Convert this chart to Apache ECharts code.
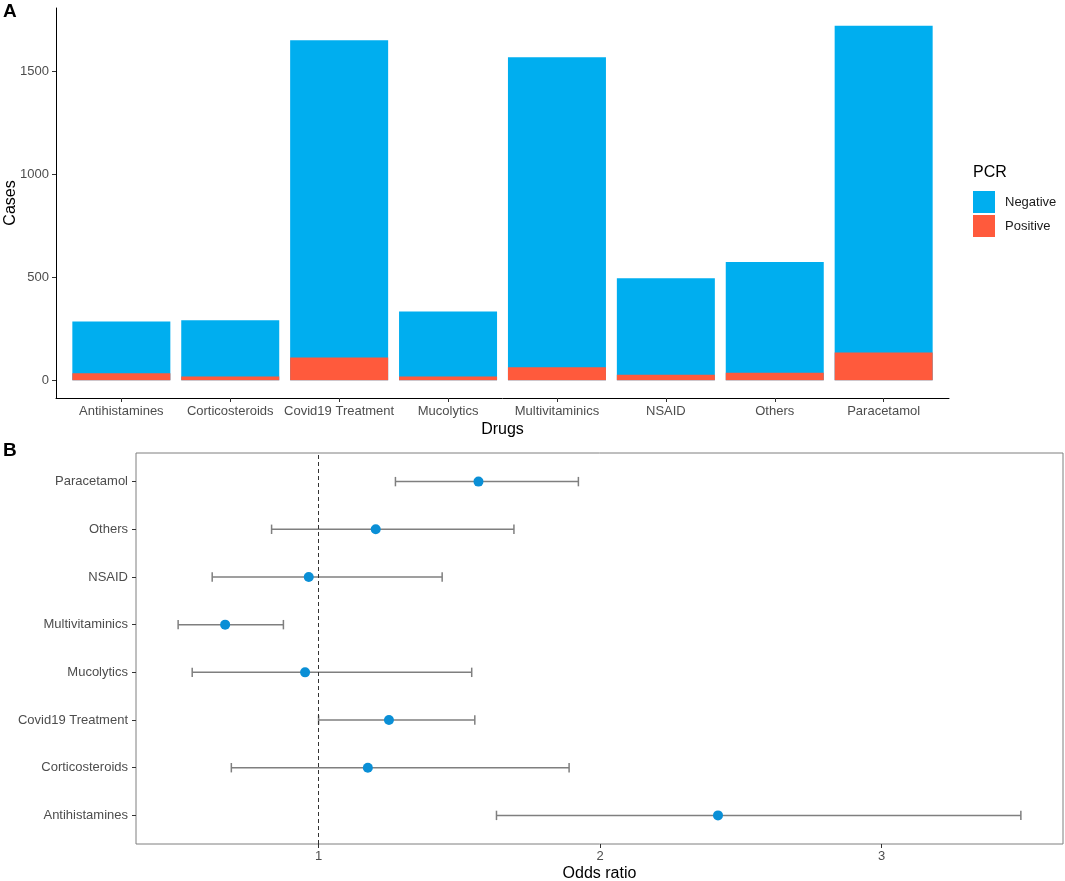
<!DOCTYPE html>
<html>
<head>
<meta charset="utf-8">
<title>PCR by drug</title>
<script src="https://cdn.jsdelivr.net/npm/echarts@6.0.0/dist/echarts.min.js"></script>
<style>
  html, body { margin: 0; padding: 0; background: #fff; }
  #chart { width: 1065px; height: 881px; }
</style>
</head>
<body>
<div id="chart"></div>
<script>
// Panel A: cases per drug split by PCR result
var drugs = ["Antihistamines", "Corticosteroids", "Covid19 Treatment", "Mucolytics",
  "Multivitaminics", "NSAID", "Others", "Paracetamol"];
var negativeCases = [252, 273, 1541, 316, 1506, 469, 538, 1587];
var positiveCases = [34, 18, 110, 18, 63, 27, 37, 135];
var caseTicks = [0, 500, 1000, 1500];

// Panel B: odds ratio with 95% CI, same drug order (bottom to top)
var oddsRatio = [2.419, 1.175, 1.250, 0.952, 0.668, 0.965, 1.203, 1.568];
var ciLower = [1.632, 0.690, 1.000, 0.551, 0.501, 0.622, 0.833, 1.273];
var ciUpper = [3.495, 1.890, 1.555, 1.544, 0.875, 1.439, 1.694, 1.923];
var orTicks = [1, 2, 3];

var FONT = "Liberation Sans, Arial, sans-serif";
var blue = "#00AEEF";
var red = "#FF5A3C";
var grey = "#4d4d4d";

// ggplot style limits: 5% on continuous axes, 0.6 on discrete ones
var totals = drugs.map(function (d, i) { return negativeCases[i] + positiveCases[i]; });
var caseMax = Math.max.apply(null, totals);
var orLo = Math.min.apply(null, ciLower);
var orHi = Math.max.apply(null, ciUpper);
var orPad = (orHi - orLo) * 0.05;
var catPos = drugs.map(function (d, i) { return i + 1; });

function catLabel(v) {
  return drugs[Math.round(v) - 1] || "";
}

var chart = echarts.init(document.getElementById("chart"), null, { renderer: "canvas" });

var option = {
  animation: false,
  backgroundColor: "#fff",
  textStyle: { fontFamily: FONT },
  title: [
    { text: "A", left: 3, top: 2, padding: 0, textStyle: { fontSize: 19, fontWeight: "bold", color: "#000", fontFamily: FONT } },
    { text: "B", left: 3, top: 441, padding: 0, textStyle: { fontSize: 19, fontWeight: "bold", color: "#000", fontFamily: FONT } },
    { text: "PCR", left: 973, top: 165, padding: 0, textStyle: { fontSize: 16, fontWeight: "normal", color: "#000", fontFamily: FONT } }
  ],
  legend: {
    data: ["Negative", "Positive"],
    orient: "vertical",
    left: 973,
    top: 191,
    padding: 0,
    icon: "rect",
    itemWidth: 22,
    itemHeight: 22,
    itemGap: 2,
    selectedMode: false,
    textStyle: { fontSize: 13, color: "#1a1a1a", fontFamily: FONT, padding: [0, 0, 0, 5] }
  },
  grid: [
    { left: 56, top: 8, width: 893, height: 390, outerBoundsMode: "none", containLabel: false },
    {
      left: 136, top: 453, width: 927, height: 391, outerBoundsMode: "none", containLabel: false,
      show: true, borderColor: "#7f7f7f", borderWidth: 1, backgroundColor: "transparent"
    }
  ],
  xAxis: [
    {
      gridIndex: 0,
      type: "value",
      min: 0.4,
      max: drugs.length + 0.6,
      name: "Drugs",
      nameLocation: "middle",
      nameGap: 24,
      nameMoveOverlap: false,
      nameTextStyle: { fontSize: 16, color: "#000", fontFamily: FONT, verticalAlign: "top" },
      axisLine: { show: true, onZero: false, lineStyle: { color: "#000", width: 1 } },
      axisTick: { show: true, length: 4, customValues: catPos, lineStyle: { color: "#333" } },
      axisLabel: { customValues: catPos, formatter: catLabel, fontSize: 13, color: grey, margin: 7, fontFamily: FONT },
      splitLine: { show: false }
    },
    {
      gridIndex: 1,
      type: "value",
      min: orLo - orPad,
      max: orHi + orPad,
      name: "Odds ratio",
      nameLocation: "middle",
      nameGap: 22,
      nameMoveOverlap: false,
      nameTextStyle: { fontSize: 16, color: "#000", fontFamily: FONT, verticalAlign: "top" },
      axisLine: { show: false, onZero: false },
      axisTick: { show: true, length: 4, customValues: orTicks, lineStyle: { color: "#333" } },
      axisLabel: { customValues: orTicks, fontSize: 13, color: grey, margin: 6, fontFamily: FONT },
      splitLine: { show: false }
    }
  ],
  yAxis: [
    {
      gridIndex: 0,
      type: "value",
      min: -caseMax * 0.05,
      max: caseMax * 1.05,
      name: "Cases",
      nameLocation: "middle",
      nameGap: 37,
      nameMoveOverlap: false,
      nameTextStyle: { fontSize: 16, color: "#000", fontFamily: FONT },
      axisLine: { show: true, onZero: false, lineStyle: { color: "#000", width: 1 } },
      axisTick: { show: true, length: 4, customValues: caseTicks, lineStyle: { color: "#333" } },
      axisLabel: {
        customValues: caseTicks,
        formatter: function (v) { return String(v); },
        fontSize: 13, color: grey, margin: 7, fontFamily: FONT
      },
      splitLine: { show: false }
    },
    {
      gridIndex: 1,
      type: "value",
      min: 0.4,
      max: drugs.length + 0.6,
      axisLine: { show: false, onZero: false },
      axisTick: { show: true, length: 4, customValues: catPos, lineStyle: { color: "#333" } },
      axisLabel: { customValues: catPos, formatter: catLabel, fontSize: 13, color: grey, margin: 8, fontFamily: FONT },
      splitLine: { show: false }
    }
  ],
  series: [
    // stacked look: negative bar sits on top of the positive part, so it spans 0..total
    {
      name: "Negative",
      type: "bar",
      xAxisIndex: 0,
      yAxisIndex: 0,
      barWidth: 98,
      barGap: "-100%",
      itemStyle: { color: blue },
      data: drugs.map(function (d, i) { return [i + 1, positiveCases[i] + negativeCases[i]]; })
    },
    {
      name: "Positive",
      type: "bar",
      xAxisIndex: 0,
      yAxisIndex: 0,
      barWidth: 98,
      barGap: "-100%",
      z: 3,
      itemStyle: { color: red },
      data: drugs.map(function (d, i) { return [i + 1, positiveCases[i]]; })
    },
    {
      name: "CI",
      type: "custom",
      xAxisIndex: 1,
      yAxisIndex: 1,
      encode: { x: [1, 2], y: 0 },
      z: 2,
      silent: true,
      renderItem: function (params, api) {
        var y = api.value(0);
        var a = api.coord([api.value(1), y]);
        var b = api.coord([api.value(2), y]);
        var cap = 4.7;
        var st = { stroke: "#7f7f7f", lineWidth: 1.5 };
        return {
          type: "group",
          children: [
            { type: "line", shape: { x1: a[0], y1: a[1], x2: b[0], y2: b[1] }, style: st },
            { type: "line", shape: { x1: a[0], y1: a[1] - cap, x2: a[0], y2: a[1] + cap }, style: st },
            { type: "line", shape: { x1: b[0], y1: b[1] - cap, x2: b[0], y2: b[1] + cap }, style: st }
          ]
        };
      },
      data: drugs.map(function (d, i) { return [i + 1, ciLower[i], ciUpper[i]]; })
    },
    {
      name: "OR",
      type: "scatter",
      xAxisIndex: 1,
      yAxisIndex: 1,
      z: 3,
      symbol: "circle",
      symbolSize: 10,
      itemStyle: { color: "#0a8fd6", opacity: 1 },
      silent: true,
      data: drugs.map(function (d, i) { return [oddsRatio[i], i + 1]; }),
      markLine: {
        silent: true,
        symbol: ["none", "none"],
        label: { show: false },
        lineStyle: { type: [4, 3], color: "#333", width: 1 },
        data: [{ xAxis: 1 }]
      }
    }
  ]
};

chart.setOption(option);
</script>
</body>
</html>
